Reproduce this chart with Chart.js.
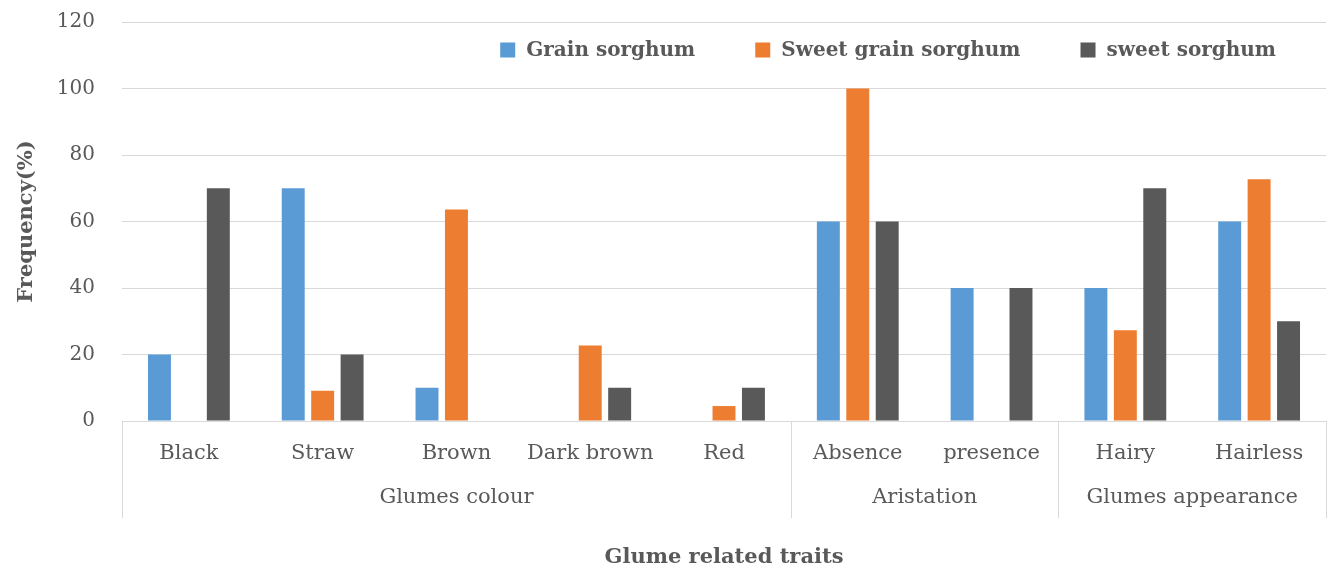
<!DOCTYPE html>
<html>
<head>
<meta charset="utf-8">
<script src="https://cdn.jsdelivr.net/npm/chart.js@4"></script>
<style>
  body { margin: 0; background: #fff; }
  #wrap { width: 1330px; height: 572px; position: relative; }
</style>
</head>
<body>
<div id="wrap"><canvas id="result-chart"></canvas></div>
<script>
const traits = ["Black", "Straw", "Brown", "Dark brown", "Red", "Absence", "presence", "Hairy", "Hairless"];
const groupNames = ["Glumes colour", "Aristation", "Glumes appearance"];
const groupSizes = [5, 2, 2];

const grainSorghum = [20, 70, 10, 0, 0, 60, 40, 40, 60];
const sweetGrainSorghum = [0, 9.1, 63.6, 22.7, 4.5, 100, 0, 27.3, 72.7];
const sweetSorghum = [70, 20, 0, 10, 10, 60, 40, 70, 30];

const yTicks = [0, 20, 40, 60, 80, 100, 120];

const textColor = "#595959";
const lineColor = "#d9d9d9";
const serif = '"DejaVu Serif", serif';

// group labels under the categories, the divider lines and the legend inside the plot
const groupPlugin = {
    id: "groups",
    afterDraw(chart) {
        const { ctx, chartArea, scales: { x } } = chart;
        const step = x.getPixelForValue(1) - x.getPixelForValue(0);
        const edge = i => x.getPixelForValue(i) - step / 2;

        ctx.save();
        ctx.strokeStyle = lineColor;
        ctx.lineWidth = 1;
        ctx.fillStyle = textColor;
        ctx.font = "21px " + serif;
        ctx.textAlign = "center";
        ctx.textBaseline = "middle";

        let start = 0;
        const cuts = [0];
        groupNames.forEach((name, g) => {
            const end = start + groupSizes[g];
            ctx.fillText(name, (edge(start) + edge(end)) / 2, chartArea.bottom + 77);
            cuts.push(end);
            start = end;
        });
        cuts.forEach(i => {
            const px = Math.round(edge(i)) + 0.5;
            ctx.beginPath();
            ctx.moveTo(px, chartArea.bottom);
            ctx.lineTo(px, chartArea.bottom + 97);
            ctx.stroke();
        });

        // legend
        ctx.font = "bold 20px " + serif;
        ctx.textAlign = "left";
        const box = 15, gap = 11, spacing = 60;
        const items = chart.data.datasets.map(ds => ({
            label: ds.label,
            color: ds.backgroundColor,
            w: ctx.measureText(ds.label).width
        }));
        const total = items.reduce((s, it) => s + box + gap + it.w, 0) + spacing * (items.length - 1);
        let lx = chartArea.right - 50 - total;
        const ly = chartArea.top + 28;
        items.forEach(it => {
            ctx.fillStyle = it.color;
            ctx.fillRect(lx, ly - box / 2, box, box);
            ctx.fillStyle = textColor;
            ctx.fillText(it.label, lx + box + gap, ly + 1);
            lx += box + gap + it.w + spacing;
        });
        ctx.restore();
    }
};

Chart.defaults.font.family = serif;
Chart.defaults.color = textColor;

const ctx = document.getElementById("result-chart");

const chart = new Chart(ctx, {
    type: "bar",
    data: {
        labels: traits,
        datasets: [
            { label: "Grain sorghum", data: grainSorghum, backgroundColor: "#5b9bd5" },
            { label: "Sweet grain sorghum", data: sweetGrainSorghum, backgroundColor: "#ed7d31" },
            { label: "sweet sorghum", data: sweetSorghum, backgroundColor: "#595959" }
        ]
    },
    options: {
        responsive: true,
        maintainAspectRatio: false,
        animation: false,
        categoryPercentage: 0.66,
        barPercentage: 0.78,
        layout: { padding: { top: 22, right: 4, left: 0, bottom: 0 } },
        plugins: {
            legend: { display: false },
            title: { display: false },
            tooltip: { enabled: false }
        },
        scales: {
            x: {
                grid: { display: false },
                border: { display: true, color: lineColor },
                ticks: { padding: 12, font: { size: 21 }, color: textColor, maxRotation: 0, autoSkip: false },
                title: {
                    display: true,
                    text: "Glume related traits",
                    font: { size: 21, weight: "bold" },
                    color: textColor,
                    padding: { top: 0, bottom: 2 }
                },
                afterFit(scale) {
                    scale.height = 151;
                    scale.paddingTop = 0;
                    scale.paddingBottom = 0;
                }
            },
            y: {
                min: 0,
                max: 120,
                afterBuildTicks(scale) { scale.ticks = yTicks.map(v => ({ value: v })); },
                grid: { color: lineColor, drawTicks: false },
                border: { display: false },
                ticks: { padding: 27, font: { size: 20 }, color: textColor },
                title: {
                    display: true,
                    text: "Frequency(%)",
                    font: { size: 21, weight: "bold" },
                    color: textColor,
                    padding: { top: 14, bottom: 0 }
                },
                afterFit(scale) {
                    scale.width = 122;
                    scale.paddingTop = 0;
                    scale.paddingBottom = 0;
                }
            }
        }
    },
    plugins: [groupPlugin]
});
</script>
</body>
</html>
